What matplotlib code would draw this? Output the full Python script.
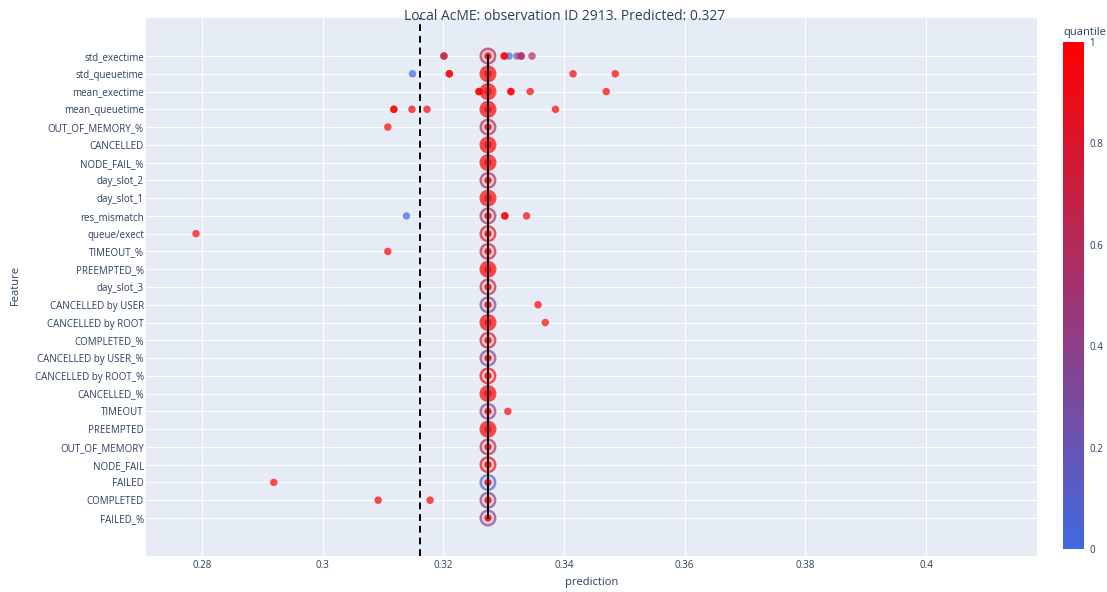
import matplotlib
matplotlib.use("Agg")
import matplotlib.pyplot as plt
from matplotlib.colors import LinearSegmentedColormap, Normalize
from matplotlib.cm import ScalarMappable

plt.rcParams["font.family"] = ["Open Sans", "DejaVu Sans"]

# features, top row first
features = [
    "std_exectime", "std_queuetime", "mean_exectime", "mean_queuetime",
    "OUT_OF_MEMORY_%", "CANCELLED", "NODE_FAIL_%", "day_slot_2", "day_slot_1",
    "res_mismatch", "queue/exect", "TIMEOUT_%", "PREEMPTED_%", "day_slot_3",
    "CANCELLED by USER", "CANCELLED by ROOT", "COMPLETED_%",
    "CANCELLED by USER_%", "CANCELLED by ROOT_%", "CANCELLED_%", "TIMEOUT",
    "PREEMPTED", "OUT_OF_MEMORY", "NODE_FAIL", "FAILED", "COMPLETED", "FAILED_%",
]
# quantile of the observed value of each feature
obs_quantile = [
    0.6, 1.0, 1.0, 1.0, 0.6, 1.0, 1.0, 0.6, 1.0, 0.55, 0.85, 0.7, 1.0, 0.65,
    0.35, 1.0, 0.75, 0.4, 0.9, 1.0, 0.4, 1.0, 0.6, 0.9, 0.1, 0.4, 0.35,
]
obs_id = 2913
predicted = 0.3274
base_value = 0.3161

# predictions when a feature is moved to another quantile
sweep_feature = [
    "std_exectime", "std_exectime", "std_exectime", "std_exectime",
    "std_exectime", "std_exectime", "std_exectime", "std_exectime", "std_exectime",
    "std_queuetime", "std_queuetime", "std_queuetime", "std_queuetime", "std_queuetime",
    "mean_exectime", "mean_exectime", "mean_exectime", "mean_exectime",
    "mean_exectime", "mean_exectime",
    "mean_queuetime", "mean_queuetime", "mean_queuetime", "mean_queuetime",
    "mean_queuetime",
    "OUT_OF_MEMORY_%",
    "res_mismatch", "res_mismatch", "res_mismatch", "res_mismatch",
    "queue/exect", "TIMEOUT_%", "CANCELLED by USER", "CANCELLED by ROOT",
    "TIMEOUT", "FAILED", "COMPLETED", "COMPLETED",
]
sweep_pred = [
    0.3201, 0.3201, 0.3301, 0.3301, 0.3309, 0.3322, 0.3329, 0.3329, 0.3347,
    0.3149, 0.3210, 0.3210, 0.3415, 0.3485,
    0.3259, 0.3259, 0.3312, 0.3312, 0.3344, 0.3470,
    0.3118, 0.3118, 0.3148, 0.3173, 0.3386,
    0.3108,
    0.3139, 0.3302, 0.3302, 0.3338,
    0.2790, 0.3108, 0.3357, 0.3369,
    0.3307, 0.2919, 0.3092, 0.3178,
]
sweep_quantile = [
    0.7, 0.7, 1.0, 1.0, 0.0, 0.3, 0.6, 0.6, 0.6,
    0.0, 1.0, 1.0, 1.0, 1.0,
    1.0, 1.0, 1.0, 1.0, 1.0, 1.0,
    1.0, 1.0, 1.0, 1.0, 1.0,
    1.0,
    0.0, 1.0, 1.0, 1.0,
    1.0, 1.0, 1.0, 1.0,
    1.0, 1.0, 1.0, 1.0,
]

text_color = "#2a3f5f"
cmap = LinearSegmentedColormap.from_list("quantile", ["#4169e1", "#ff0000"])
norm = Normalize(0, 1)

n = len(features)
row = {f: n - 1 - i for i, f in enumerate(features)}

fig = plt.figure(figsize=(11.07, 5.92), dpi=100)
ax = fig.add_axes([0.1319, 0.0608, 0.8049, 0.9088])
ax.set_facecolor("#e5ecf6")
for s in ax.spines.values():
    s.set_visible(False)

# marker list: (x, y, quantile, size, edge width)
pts = []
for f in features:
    pts.append((predicted, row[f], 1.0, 47, 1.8))
for f, q in zip(features, obs_quantile):
    pts.append((predicted, row[f], q, 150, 0.0))
for f, p, q in zip(sweep_feature, sweep_pred, sweep_quantile):
    pts.append((p, row[f], q, 29, 0.0))
# higher quantiles drawn on top
pts.sort(key=lambda t: t[2])

ax.scatter([t[0] for t in pts], [t[1] for t in pts], s=[t[3] for t in pts],
           c=[t[2] for t in pts], cmap=cmap, norm=norm, alpha=0.7,
           edgecolors="white", linewidths=[t[4] for t in pts], zorder=3)

ax.plot([predicted, predicted], [0, n - 1], color="black", lw=1.4, zorder=4)
ax.axvline(base_value, color="black", lw=1.4, ls=(0, (3.5, 2.5)), zorder=2)

ax.set_xlim(0.27072, 0.41841)
ax.set_ylim(-2.14, n - 1 + 2.14)

xticks = [0.28, 0.30, 0.32, 0.34, 0.36, 0.38, 0.40]
ax.set_xticks(xticks)
ax.set_xticklabels(["0.28", "0.3", "0.32", "0.34", "0.36", "0.38", "0.4"])
ax.set_yticks([row[f] for f in features])
ax.set_yticklabels(features)
ax.tick_params(axis="both", length=0, colors=text_color, labelsize=7)
ax.tick_params(axis="y", pad=1.5)
ax.tick_params(axis="x", pad=3)
ax.grid(True, color="white", lw=0.8, zorder=0)
ax.set_axisbelow(True)

fig.text(146 / 1107 + 0.8049 / 2, 1 - 583 / 592, "prediction", ha="center",
         va="center", color=text_color, fontsize=8)
fig.text(15 / 1107, 1 - 285 / 592, "Feature", ha="center", va="center",
         rotation=90, color=text_color, fontsize=8)
fig.text(565 / 1107, 1 - 16 / 592,
         f"Local AcME: observation ID {obs_id}. Predicted: {predicted:.3f}",
         ha="center", va="center", color=text_color, fontsize=10)

cax = fig.add_axes([1063 / 1107, 1 - 549 / 592, 21 / 1107, 507 / 592])
cb = fig.colorbar(ScalarMappable(norm=norm, cmap=cmap), cax=cax)
cb.outline.set_visible(False)
cb.set_ticks([0, 0.2, 0.4, 0.6, 0.8, 1])
cb.set_ticklabels(["0", "0.2", "0.4", "0.6", "0.8", "1"])
cax.tick_params(length=0, colors=text_color, labelsize=7, pad=4)
fig.text(1063 / 1107, 1 - 33 / 592, "quantile", ha="left", va="center",
         color=text_color, fontsize=8)

fig.savefig("out.png", dpi=100)
